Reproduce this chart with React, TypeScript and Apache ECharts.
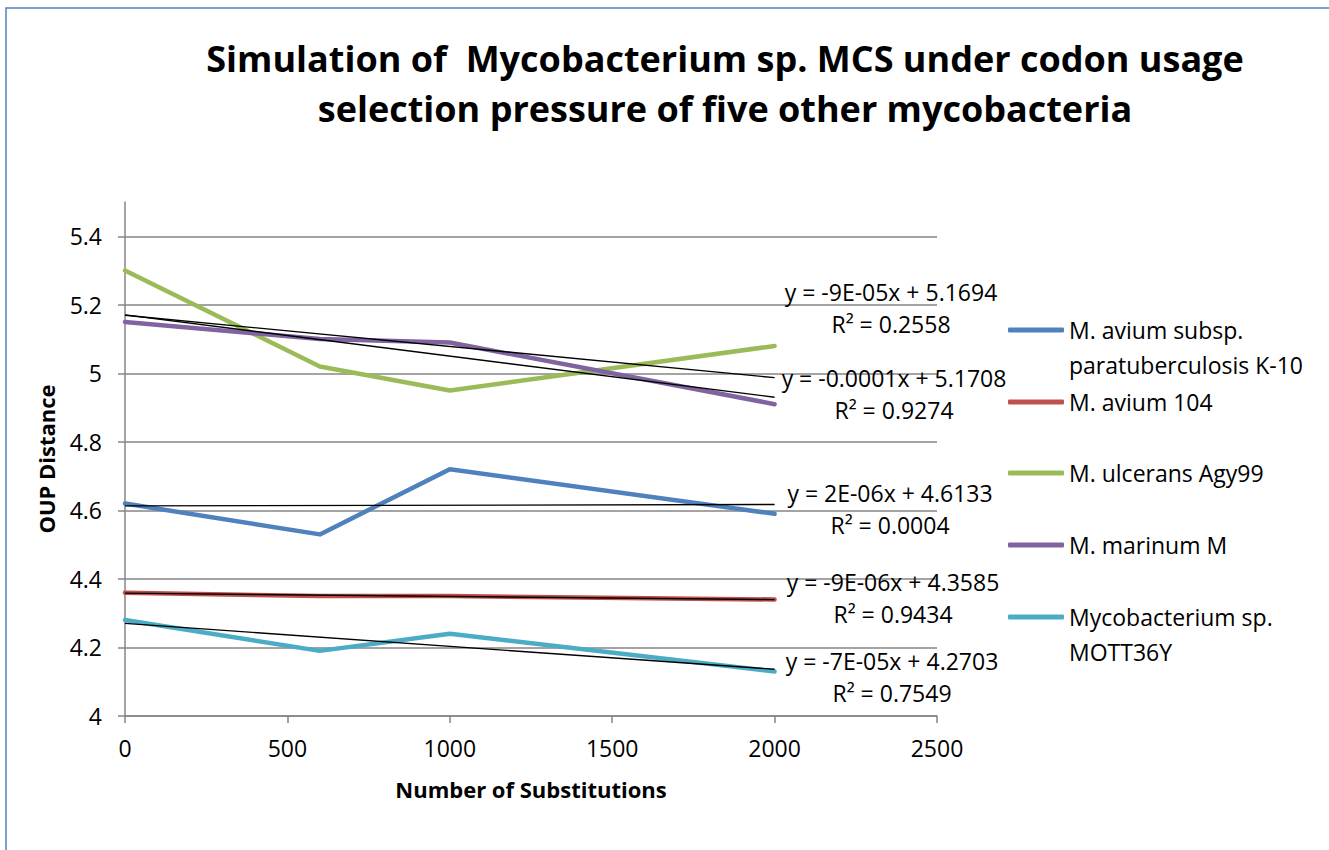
import React, { useEffect, useRef } from "react";
import * as echarts from "echarts";

const substitutions = [0, 600, 1000, 2000];
const seriesNames = [
  "M. avium subsp. paratuberculosis K-10",
  "M. avium 104",
  "M. ulcerans Agy99",
  "M. marinum M",
  "Mycobacterium sp. MOTT36Y",
];
const legendLabels = [
  "M. avium subsp.\nparatuberculosis K-10",
  "M. avium 104",
  "M. ulcerans Agy99",
  "M. marinum M",
  "Mycobacterium sp.\nMOTT36Y",
];
const aviumK10 = [4.62, 4.53, 4.72, 4.59];
const avium104 = [4.36, 4.35, 4.35, 4.34];
const ulceransAgy99 = [5.3, 5.02, 4.95, 5.08];
const marinumM = [5.15, 5.1, 5.09, 4.91];
const mott36y = [4.28, 4.19, 4.24, 4.13];
const seriesValues = [aviumK10, avium104, ulceransAgy99, marinumM, mott36y];
const colors = ["#4F81BD", "#C0504D", "#9BBB59", "#8064A2", "#4BACC6"];

const trendEquations = [
  "y = 2E-06x + 4.6133\nR² = 0.0004",
  "y = -9E-06x + 4.3585\nR² = 0.9434",
  "y = -9E-05x + 5.1694\nR² = 0.2558",
  "y = -0.0001x + 5.1708\nR² = 0.9274",
  "y = -7E-05x + 4.2703\nR² = 0.7549",
];
// label anchor positions (pixels) for equation texts
const eqPos = [
  [890, 493],
  [893, 582],
  [891, 292],
  [894, 378],
  [892, 661],
];
const legendIconY = [330, 402, 473, 545, 617];

const FONT = "Open Sans";
const FS = 23;

function linReg(xs: number[], ys: number[]) {
  const n = xs.length;
  const mx = xs.reduce((a, b) => a + b, 0) / n;
  const my = ys.reduce((a, b) => a + b, 0) / n;
  let sxy = 0, sxx = 0;
  for (let i = 0; i < n; i++) {
    sxy += (xs[i] - mx) * (ys[i] - my);
    sxx += (xs[i] - mx) * (xs[i] - mx);
  }
  const b = sxy / sxx;
  return { a: my - b * mx, b };
}

export default function App() {
  const ref = useRef<HTMLDivElement>(null);
  useEffect(() => {
    if (!ref.current) return;
    const chart = echarts.init(ref.current, undefined, { renderer: "svg" });
    const dataSeries = seriesValues.map((vals, i) => ({
      name: seriesNames[i],
      type: "line",
      data: substitutions.map((x, j) => [x, vals[j]]),
      showSymbol: false,
      symbol: "none",
      lineStyle: { color: colors[i], width: 4.5, cap: "round", join: "round" },
      itemStyle: { color: colors[i] },
      z: 2,
    }));
    const trendSeries = seriesValues.map((vals, i) => {
      const { a, b } = linReg(substitutions, vals);
      const x0 = substitutions[0];
      const x1 = substitutions[substitutions.length - 1];
      return {
        name: "trend" + i,
        type: "line",
        data: [
          [x0, a + b * x0],
          [x1, a + b * x1],
        ],
        symbol: "none",
        lineStyle: { color: "#000", width: 1.4 },
        z: 3,
        silent: true,
      };
    });
    const legends = seriesNames.map((nm, i) => {
      const twoLine = legendLabels[i].includes("\n");
      return {
        show: true,
        orient: "vertical",
        left: 1008,
        top: twoLine ? legendIconY[i] - 52.5 : legendIconY[i] - 17.5,
        padding: 0,
        data: [nm],
        icon: "roundRect",
        itemWidth: 56,
        itemHeight: 5,
        itemGap: 0,
        selectedMode: false,
        formatter: () => (twoLine ? "\n" + legendLabels[i] : legendLabels[i]),
        textStyle: {
          fontFamily: FONT,
          fontSize: FS,
          color: "#000",
          lineHeight: 35,
        },
      };
    });
    const graphics: any[] = [
      {
        type: "rect",
        shape: { x: 6, y: 8, width: 1340, height: 900 },
        style: { fill: "none", stroke: "#4F81BD", lineWidth: 1.5 },
        silent: true,
      },
    ];
    trendEquations.forEach((t, i) => {
      graphics.push({
        type: "text",
        x: eqPos[i][0],
        y: eqPos[i][1] - 16,
        style: {
          text: t,
          fontFamily: FONT,
          fontSize: FS,
          lineHeight: 32,
          fill: "#000",
          align: "center",
          verticalAlign: "top",
        },
        z: 10,
      });
    });
    chart.setOption({
      animation: false,
      backgroundColor: "#fff",
      title: {
        text: "Simulation of  Mycobacterium sp. MCS under codon usage\nselection pressure of five other mycobacteria",
        left: 725,
        textAlign: "center",
        top: 33,
        padding: 0,
        textStyle: {
          fontFamily: FONT,
          fontWeight: "bold",
          fontSize: 36,
          lineHeight: 50,
          color: "#000",
        },
      },
      legend: legends,
      grid: { left: 125, right: 392, top: 202, bottom: 134, containLabel: false },
      xAxis: {
        type: "value",
        min: 0,
        max: 2500,
        interval: 500,
        name: "Number of Substitutions",
        nameLocation: "middle",
        nameGap: 62,
        nameTextStyle: { fontFamily: FONT, fontWeight: "bold", fontSize: 22, color: "#000" },
        axisLine: { show: true, lineStyle: { color: "#868686", width: 1.5 } },
        axisTick: { show: true, length: 7, lineStyle: { color: "#868686", width: 1.5 } },
        axisLabel: {
          fontFamily: FONT,
          fontSize: FS,
          color: "#000",
          margin: 20,
          formatter: (v: number) => String(v),
        },
        splitLine: { show: false },
      },
      yAxis: {
        type: "value",
        min: 4,
        max: 5.5,
        interval: 0.2,
        name: "OUP Distance",
        nameLocation: "middle",
        nameGap: 68,
        nameTextStyle: { fontFamily: FONT, fontWeight: "bold", fontSize: 22, color: "#000" },
        axisLine: { show: true, lineStyle: { color: "#868686", width: 1.5 } },
        axisTick: { show: true, length: 7, lineStyle: { color: "#868686", width: 1.5 } },
        axisLabel: {
          fontFamily: FONT,
          fontSize: FS,
          color: "#000",
          margin: 23,
          showMaxLabel: false,
          formatter: (v: number) => (v > 5.45 ? "" : String(Math.round(v * 10) / 10)),
        },
        splitLine: {
          show: true,
          lineStyle: {
            color: ["#868686", "#868686", "#868686", "#868686", "#868686", "#868686", "#868686", "#868686", "rgba(0,0,0,0)"],
            width: 1.5,
          },
        },
      },
      graphic: graphics,
      series: [...dataSeries, ...trendSeries],
    });
    return () => chart.dispose();
  }, []);
  return (
    <div
      ref={ref}
      style={{ position: "absolute", left: 0, top: 0, width: 1329, height: 850 }}
    />
  );
}
